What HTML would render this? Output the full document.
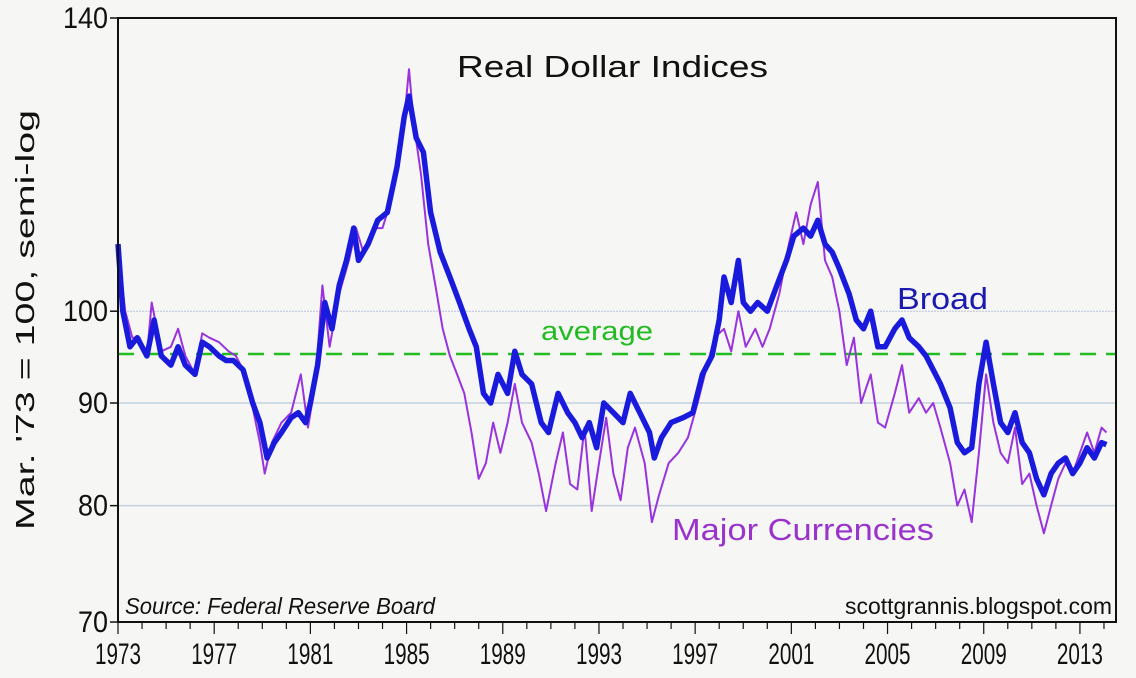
<!DOCTYPE html>
<html><head><meta charset="utf-8"><style>
body{margin:0;background:#f6f6f4;}
svg{display:block;font-family:"Liberation Sans Narrow","Liberation Sans",sans-serif;}
</style></head><body>
<svg id="c" width="1136" height="678">
<rect x="0" y="0" width="1136" height="678" fill="#f6f6f4"/>
<g id="grid"></g>
<g id="lines"></g>
<rect x="118" y="18" width="998" height="604" fill="none" stroke="#111" stroke-width="2"/>
<g id="axes"></g>
<text x="457" y="77" font-size="31" textLength="311" lengthAdjust="spacingAndGlyphs" fill="#111">Real Dollar Indices</text>
<text x="897" y="309" font-size="31" textLength="91" lengthAdjust="spacingAndGlyphs" fill="#1a1ab0">Broad</text>
<text x="541" y="340" font-size="27" textLength="112" lengthAdjust="spacingAndGlyphs" fill="#22bb22">average</text>
<text x="672" y="540" font-size="31" textLength="262" lengthAdjust="spacingAndGlyphs" fill="#9933cc">Major Currencies</text>
<text x="125" y="614" font-size="23" font-style="italic" textLength="310" lengthAdjust="spacingAndGlyphs" fill="#111">Source: Federal Reserve Board</text>
<text x="845" y="614" font-size="23" textLength="267" lengthAdjust="spacingAndGlyphs" fill="#111">scottgrannis.blogspot.com</text>
<text transform="translate(34,530) rotate(-90)" font-size="26" textLength="420" lengthAdjust="spacingAndGlyphs" fill="#111">Mar. '73 = 100, semi-log</text>
</svg>
<script>
const yTicks=[140,100,90,80,70];
const gridVals=[100,90,80];
const xTickYears=[1973,1977,1981,1985,1989,1993,1997,2001,2005,2009,2013];
const averageValue=95.2;
const broadYears=[1973.0,1973.2,1973.5,1973.8,1974.2,1974.5,1974.8,1975.2,1975.5,1975.8,1976.2,1976.5,1976.8,1977.2,1977.5,1977.8,1978.2,1978.6,1978.9,1979.2,1979.5,1979.8,1980.2,1980.5,1980.8,1981.0,1981.3,1981.6,1981.9,1982.2,1982.5,1982.8,1983.0,1983.4,1983.8,1984.2,1984.6,1984.9,1985.1,1985.4,1985.7,1986.0,1986.4,1986.8,1987.2,1987.6,1987.9,1988.2,1988.5,1988.8,1989.2,1989.5,1989.8,1990.2,1990.6,1990.9,1991.3,1991.7,1992.0,1992.3,1992.6,1992.9,1993.2,1993.6,1994.0,1994.3,1994.7,1995.1,1995.3,1995.6,1996.0,1996.5,1996.9,1997.3,1997.7,1998.0,1998.2,1998.5,1998.8,1999.0,1999.3,1999.6,2000.0,2000.4,2000.8,2001.1,2001.5,2001.8,2002.1,2002.4,2002.7,2003.0,2003.4,2003.7,2004.0,2004.3,2004.6,2004.9,2005.3,2005.6,2005.9,2006.3,2006.6,2006.9,2007.2,2007.6,2007.9,2008.2,2008.5,2008.8,2009.1,2009.4,2009.7,2010.0,2010.3,2010.6,2010.9,2011.2,2011.5,2011.8,2012.1,2012.4,2012.7,2013.0,2013.3,2013.6,2013.9,2014.1];
const broadValues=[108,100,96,97,95,99,95,94,96,94,93,96.5,96,95,94.5,94.5,93.5,90,88,84.5,86,87,88.5,89,88,90,94,101,98,103,106,110,106,108,111,112,118,125,128,122,120,112,107,104,101,98,96,91,90,93,91,95.5,93,92,88,87,91,89,88,86.5,88,85.5,90,89,88,91,89,87,84.5,86.5,88,88.5,89,93,95,99,104,101,106,101,100,101,100,103,106,109,110,109,111,108,107,105,102,99,98,100,96,96,98,99,97,96,95,93.5,92,89.5,86,85,85.5,92,96.5,92,88,87,89,86,85,82.5,81,83,84,84.5,83,84,85.5,84.5,86,85.8];
const majorYears=[1973.0,1973.3,1973.6,1973.9,1974.2,1974.4,1974.8,1975.2,1975.5,1975.8,1976.2,1976.5,1976.8,1977.2,1977.6,1977.9,1978.3,1978.6,1978.9,1979.1,1979.4,1979.8,1980.2,1980.6,1980.9,1981.2,1981.5,1981.8,1982.2,1982.6,1982.9,1983.2,1983.6,1984.0,1984.4,1984.8,1985.1,1985.3,1985.6,1985.9,1986.2,1986.5,1986.8,1987.1,1987.4,1987.7,1988.0,1988.3,1988.6,1988.9,1989.2,1989.5,1989.8,1990.2,1990.5,1990.8,1991.2,1991.5,1991.8,1992.1,1992.4,1992.7,1993.0,1993.3,1993.6,1993.9,1994.2,1994.5,1994.9,1995.2,1995.5,1995.9,1996.3,1996.7,1997.1,1997.5,1997.8,1998.2,1998.5,1998.8,1999.1,1999.5,1999.8,2000.1,2000.5,2000.9,2001.2,2001.5,2001.8,2002.1,2002.4,2002.7,2003.0,2003.3,2003.6,2003.9,2004.3,2004.6,2004.9,2005.3,2005.6,2005.9,2006.3,2006.6,2006.9,2007.2,2007.6,2007.9,2008.2,2008.5,2008.8,2009.1,2009.4,2009.7,2010.0,2010.3,2010.6,2010.9,2011.2,2011.5,2011.8,2012.1,2012.4,2012.7,2013.0,2013.3,2013.6,2013.9,2014.1];
const majorValues=[108,100,97,97,95,101,95.5,96,98,95,93,97.5,97,96.5,95.5,95,93,89.5,86,83,86,88,89,93,87.5,92,103,96,102,106,110,107,110,110,114,121,132,124,117,108,103,98,95,93,91,87,82.5,84,88,85,88,92,88,86,83,79.5,84,87,82,81.5,87.5,79.5,84,88.5,83,80.5,85.5,87.5,84,78.5,81,84,85,86.5,90,94,97,98,95.5,100,96,98,96,98,102,108,112,108,113,116,106,104,100,94,97,90,93,88,87.5,91,94,89,90.5,89,90,87.5,84,80,81.5,78.5,85,93,88,85,84,87.5,82,83,80,77.5,80,82.5,84,83,85,87,85,87.5,87];

const NS="http://www.w3.org/2000/svg";
const X0=118,X1=1116,Y0=18,Y1=622,yr0=1973,yr1=2014.5;
function xs(yr){return X0+(yr-yr0)/(yr1-yr0)*(X1-X0);}
function ys(v){return Y0+(Math.log(140)-Math.log(v))/(Math.log(140)-Math.log(70))*(Y1-Y0);}
function mk(tag,attrs,parent){const e=document.createElementNS(NS,tag);for(const k in attrs)e.setAttribute(k,attrs[k]);parent.appendChild(e);return e;}
const grid=document.getElementById('grid'),lines=document.getElementById('lines'),axes=document.getElementById('axes');
gridVals.forEach(v=>{
  const l=mk('line',{x1:X0,x2:X1,y1:ys(v),y2:ys(v),stroke:v===100?'#b8c4dc':'#c4d0dc','stroke-width':v===100?1:1.5,'stroke-dasharray':v===100?'2,1':'none'},grid);
  
  
});
yTicks.forEach(v=>{
  const w=String(v).length*15;
  const t=mk('text',{x:108-w,y:ys(v)+10,'font-size':30,textLength:w,lengthAdjust:'spacingAndGlyphs',fill:'#111'},axes);
  t.textContent=v;
  
  
  const tk=mk('line',{x1:110,x2:X0,y1:ys(v),y2:ys(v),stroke:'#111','stroke-width':1.5},axes);
  
  
});
for(let y=1973;y<=2014;y++){
  const major=xTickYears.includes(y);
  const tk=mk('line',{x1:xs(y),x2:xs(y),y1:Y1,y2:Y1+(major?12:7),stroke:'#111','stroke-width':1.2},axes);
  
  
}
xTickYears.forEach(y=>{
  const t=mk('text',{x:xs(y)-23,y:664,'font-size':30,textLength:46,lengthAdjust:'spacingAndGlyphs',fill:'#111'},axes);
  t.textContent=y;
  
  
});
const avg=mk('line',{x1:X0,x2:X1,y1:ys(averageValue),y2:ys(averageValue),stroke:'#22bb22','stroke-width':2.5,'stroke-dasharray':'16,10'},lines);


function path(ys_,vs){return vs.map((v,i)=>(i?'L':'M')+xs(ys_[i]).toFixed(1)+','+ys(v).toFixed(1)).join(' ');}
const mj=mk('path',{d:path(majorYears,majorValues),fill:'none',stroke:'#9933dd','stroke-width':2,'stroke-linejoin':'round'},lines);


const br=mk('path',{d:path(broadYears,broadValues),fill:'none',stroke:'#1a1add','stroke-width':5.5,'stroke-linejoin':'round'},lines);


</script>
</body></html>
